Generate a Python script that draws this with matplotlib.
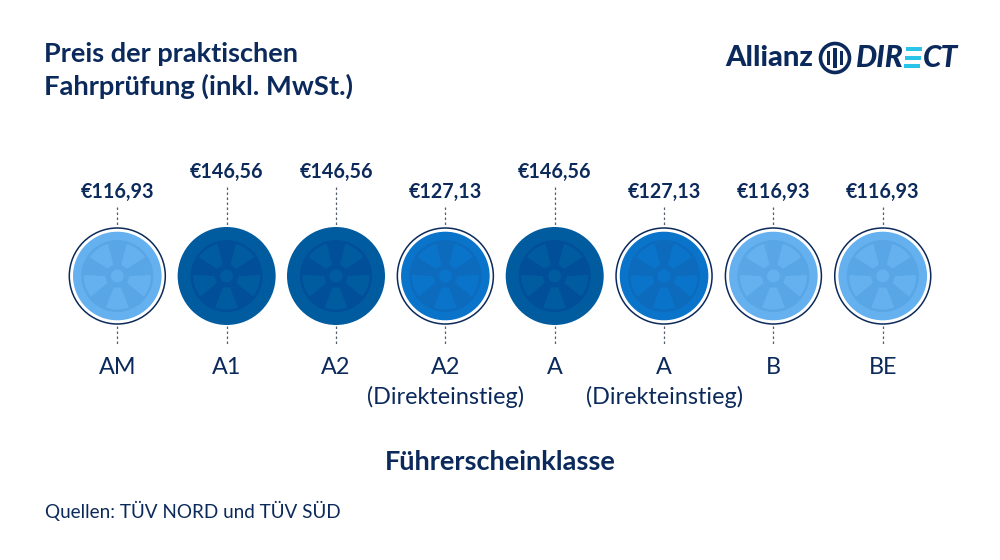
import numpy as np
import matplotlib
matplotlib.use("Agg")
import matplotlib.pyplot as plt
from matplotlib.patches import Circle, Polygon, Rectangle

categories = ["AM", "A1", "A2", "A2\n(Direkteinstieg)", "A", "A\n(Direkteinstieg)", "B", "BE"]
prices = [116.93, 146.56, 146.56, 127.13, 146.56, 127.13, 116.93, 116.93]
price_labels = ["€116,93", "€146,56", "€146,56", "€127,13", "€146,56", "€127,13", "€116,93", "€116,93"]

NAVY = "#0b2a5b"
palette = {116.93: ("#65b0ef", "#58a6e6", True),
           127.13: ("#0a74cb", "#0c6bbd", True),
           146.56: ("#005c9f", "#004f98", False)}

plt.rcParams["font.family"] = ["Lato", "DejaVu Sans"]
fig = plt.figure(figsize=(10, 5.6), dpi=100)
ax = fig.add_axes([0, 0, 1, 1])
ax.set_xlim(0, 1000); ax.set_ylim(560, 0); ax.axis("off")

X0, STEP, CY = 117.3, 109.35, 276

def window(x, y, a, color):
    ang = np.radians(np.linspace(a - 20, a + 20, 20))
    outer = np.c_[x + 33.5 * np.cos(ang), y + 33.5 * np.sin(ang)]
    tip = np.radians(a)
    inner = [[x + 12 * np.cos(tip - 0.3), y + 12 * np.sin(tip - 0.3)],
             [x + 12 * np.cos(tip + 0.3), y + 12 * np.sin(tip + 0.3)]]
    pts = np.vstack([outer, inner[::-1]])
    ax.add_patch(Polygon(pts, closed=True, fc=color, ec="none", zorder=5))

def wheel(x, y, tyre, dark, ringed):
    if ringed:
        ax.add_patch(Circle((x, y), 48, fc="white", ec=NAVY, lw=1.1, zorder=2))
        ax.add_patch(Circle((x, y), 44.3, fc=tyre, ec="none", zorder=3))
    else:
        ax.add_patch(Circle((x, y), 49, fc=tyre, ec="none", zorder=3))
    ax.add_patch(Circle((x, y), 36, fc=dark, ec="none", zorder=4))
    for a in (90, 162, 234, 306, 18):
        window(x, y, a, tyre)
    ax.add_patch(Circle((x, y), 6.5, fc=tyre, ec="none", zorder=6))

for i, (cat, price, lab) in enumerate(zip(categories, prices, price_labels)):
    x = X0 + i * STEP
    tyre, dark, ringed = palette[price]
    wheel(x, CY, tyre, dark, ringed)
    top = 187 if price > 140 else 207
    ax.plot([x, x], [top, 227], color="#555f70", lw=0.9, ls=(0, (2, 2)), zorder=1)
    ax.plot([x, x], [326, 345], color="#555f70", lw=0.9, ls=(0, (2, 2)), zorder=1)
    ax.text(x, top - 15.5, lab, ha="center", va="center", fontsize=14.2, color=NAVY, fontweight="bold")
    for j, line in enumerate(cat.split("\n")):
        ax.text(x, 367 + j * 30, line, ha="center", va="center", fontsize=16.8, color=NAVY)

ax.text(44, 54, "Preis der praktischen", fontsize=19.5, fontweight="bold", color=NAVY, va="center")
ax.text(44, 86, "Fahrprüfung (inkl. MwSt.)", fontsize=19.7, fontweight="bold", color=NAVY, va="center")
ax.text(500, 462, "Führerscheinklasse", fontsize=19.5, fontweight="bold", color=NAVY, ha="center", va="center")
ax.text(45, 511, "Quellen: TÜV NORD und TÜV SÜD", fontsize=13.6, color=NAVY, va="center")

# logo
ax.text(725, 58, "Allianz", fontsize=21, fontweight="black", color=NAVY, va="center")
ax.add_patch(Circle((835, 58), 14.5, fc="white", ec=NAVY, lw=2.6))
for dx, h in ((-6.5, 7), (0, 10), (6.5, 7)):
    ax.add_patch(Rectangle((835 + dx - 1.8, 58 - h), 3.6, 2 * h, fc=NAVY, ec="none"))
ax.text(856, 58, "DIR", fontsize=21.5, fontweight="black", style="italic", color=NAVY, va="center")
for ytop, skew in ((47, 2), (56, 1), (64, 0)):
    ax.add_patch(Rectangle((904 + skew, ytop), 16, 3.8, fc="#29c4e8", ec="none"))
ax.text(923, 58, "CT", fontsize=21.5, fontweight="black", style="italic", color=NAVY, va="center")

fig.savefig("out.png", dpi=100)
